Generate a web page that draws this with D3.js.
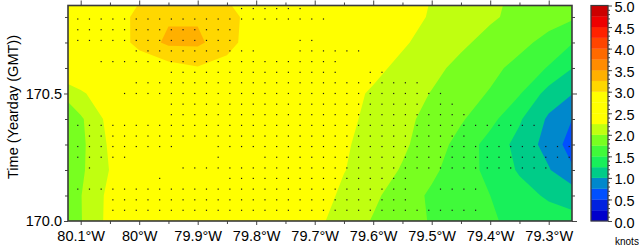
<!DOCTYPE html>
<html>
<head>
<meta charset="utf-8">
<script src="https://cdn.jsdelivr.net/npm/d3@7"></script>
<style>
body { margin: 0; background: #fff; }
svg { display: block; font-family: "Liberation Sans", Arial, Helvetica, sans-serif; }
</style>
</head>
<body>
<script>
// grid of wind speed (knots): columns = longitude (deg W), rows = yearday (top to bottom)
var lonCols = [80.15, 80.10, 80.05, 80.00, 79.95, 79.90, 79.85, 79.80, 79.75, 79.70,
               79.65, 79.60, 79.55, 79.50, 79.45, 79.40, 79.35, 79.30, 79.25];
var timeRows = [170.9, 170.8, 170.7, 170.6, 170.5, 170.4, 170.3, 170.2, 170.1, 170.0];
var speed = [
  [2.55, 2.62, 2.78, 2.93, 3.08, 3.08, 2.95, 2.82, 2.72, 2.62, 2.52, 2.43, 2.34, 2.25, 2.15, 2.05, 1.96, 1.87, 1.78], // 170.9
  [2.55, 2.62, 2.80, 3.09, 3.22, 3.22, 3.12, 2.85, 2.72, 2.62, 2.52, 2.43, 2.33, 2.23, 2.13, 2.03, 1.94, 1.85, 1.76], // 170.8
  [2.50, 2.60, 2.75, 3.11, 3.30, 3.30, 3.10, 2.84, 2.70, 2.60, 2.50, 2.38, 2.28, 2.16, 2.04, 1.93, 1.82, 1.67, 1.47], // 170.7
  [2.40, 2.50, 2.60, 2.75, 2.90, 2.98, 2.90, 2.80, 2.70, 2.58, 2.45, 2.31, 2.19, 2.06, 1.94, 1.82, 1.67, 1.48, 1.20], // 170.6
  [1.92, 2.21, 2.42, 2.55, 2.68, 2.80, 2.82, 2.80, 2.70, 2.55, 2.33, 2.22, 2.10, 1.99, 1.86, 1.73, 1.52, 1.15, 0.97], // 170.5
  [1.75, 1.96, 2.34, 2.50, 2.62, 2.75, 2.78, 2.75, 2.68, 2.52, 2.31, 2.19, 2.06, 1.93, 1.78, 1.58, 1.28, 0.96, 0.70], // 170.4
  [1.78, 1.94, 2.29, 2.50, 2.62, 2.72, 2.75, 2.72, 2.65, 2.50, 2.28, 2.16, 2.04, 1.88, 1.66, 1.40, 1.17, 0.90, 0.58], // 170.3
  [1.77, 1.955, 2.26, 2.50, 2.62, 2.70, 2.72, 2.70, 2.62, 2.48, 2.26, 2.12, 1.98, 1.80, 1.62, 1.43, 1.22, 1.02, 0.72], // 170.2
  [1.76, 1.99, 2.32, 2.50, 2.60, 2.65, 2.65, 2.60, 2.55, 2.40, 2.19, 2.05, 1.87, 1.71, 1.61, 1.50, 1.35, 1.21, 1.10], // 170.1
  [1.75, 1.985, 2.33, 2.50, 2.55, 2.60, 2.60, 2.55, 2.50, 2.31, 2.15, 1.98, 1.86, 1.73, 1.63, 1.53, 1.43, 1.38, 1.33]  // 170.0
];

// contour levels and their fill colours
var levels = [0, 0.25, 0.5, 0.75, 1.0, 1.25, 1.5, 1.75, 2.0, 2.25,
              2.5, 2.75, 3.0, 3.25, 3.5, 3.75, 4.0, 4.25, 4.5, 4.75];
var levelColors = ["#0000cc", "#0022e0", "#0050ff", "#0088cc", "#00cc88", "#18f05a", "#40fa3a", "#78ff20", "#c0ff10", "#ffff00",
                   "#ffff00", "#ffff00", "#ffd700", "#ffb000", "#ff8c00", "#ff6a00", "#ff4500", "#ff2200", "#ee0000", "#cc0000"];

// sample locations (dots)
var dotLons = [80.105, 80.085, 80.065, 80.045, 80.025, 80.005, 79.985, 79.965, 79.945, 79.925, 79.905,
               79.885, 79.865, 79.845, 79.825, 79.805, 79.785, 79.765, 79.745, 79.725, 79.705, 79.685,
               79.665, 79.645, 79.625, 79.605, 79.585, 79.565, 79.545, 79.525, 79.505, 79.485, 79.465,
               79.445, 79.425, 79.405, 79.385, 79.365, 79.345, 79.325, 79.305, 79.285, 79.265];
var dotTimes = [170.833, 170.792, 170.75, 170.708, 170.667, 170.625, 170.583, 170.542, 170.5, 170.458,
                170.417, 170.375, 170.333, 170.292, 170.25, 170.208, 170.167, 170.125, 170.083, 170.042];
var dotRows = ["14-19", "0-21", "0-13", "0-13,19-20", "5-15,19-24", "2-22", "8-22,25-26", "5-29", "4-31", "8-29,31-32",
               "8-33", "0-39", "1-33", "0-8,12-42", "0-4,12,16-42", "1,9-40", "7,13-28", "0-28,31-34", "3-28", "3-34"];

var lonTicks = [80.1, 80.0, 79.9, 79.8, 79.7, 79.6, 79.5, 79.4, 79.3];
var timeTicks = [170.0, 170.5];
var keyTicks = [0.0, 0.5, 1.0, 1.5, 2.0, 2.5, 3.0, 3.5, 4.0, 4.5, 5.0];

var w = 639;
var h = 247;
var pLeft = 68, pRight = 572, pTop = 5.5, pBottom = 221;

var svg = d3.select("body").append("svg")
  .attr("width", w)
  .attr("height", h);

var x = d3.scaleLinear().domain([-80.1217, -79.2602]).range([pLeft, pRight]);
var y = d3.scaleLinear().domain([170.0, 170.845]).range([pBottom, pTop]);

svg.append("clipPath").attr("id", "plotclip")
  .append("rect")
  .attr("x", pLeft).attr("y", pTop)
  .attr("width", pRight - pLeft).attr("height", pBottom - pTop);

// contours
var flat = [];
speed.forEach(function(row) { row.forEach(function(v) { flat.push(v); }); });

var contours = d3.contours()
  .size([lonCols.length, timeRows.length])
  .thresholds(levels)(flat);

var gx = d3.scaleLinear().domain([0.5, lonCols.length - 0.5])
  .range([x(-lonCols[0]), x(-lonCols[lonCols.length - 1])]);
var gy = d3.scaleLinear().domain([0.5, timeRows.length - 0.5])
  .range([y(timeRows[0]), y(timeRows[timeRows.length - 1])]);

var path = d3.geoPath(d3.geoTransform({
  point: function(px, py) { this.stream.point(gx(px), gy(py)); }
}));

svg.append("g")
  .attr("clip-path", "url(#plotclip)")
  .selectAll("path")
  .data(contours)
  .enter().append("path")
  .attr("d", path)
  .attr("fill", function(d, i) { return levelColors[i]; });

// sample dots
var dots = [];
dotRows.forEach(function(s, j) {
  s.split(",").forEach(function(part) {
    var ab = part.split("-").map(Number);
    var end = ab.length > 1 ? ab[1] : ab[0];
    for (var c = ab[0]; c <= end; c++) dots.push({ lon: dotLons[c], t: dotTimes[j] });
  });
});

svg.append("g")
  .selectAll("rect")
  .data(dots)
  .enter().append("rect")
  .attr("x", function(d) { return x(-d.lon) - 0.6; })
  .attr("y", function(d) { return y(d.t) - 0.6; })
  .attr("width", 1.2)
  .attr("height", 1.2)
  .attr("fill", "#1a1a1a");

// axes
var lonFmt = function(d) { return (+Math.abs(d).toFixed(1)) + "\u00b0W"; };
var xMajor = lonTicks.map(function(d) { return -d; });
var xMinor = xMajor.slice(1).map(function(d, i) { return (d + xMajor[i]) / 2; });
var yMinor = d3.range(170.1, 170.85, 0.1).filter(function(d) { return Math.abs(d - 170.5) > 0.01; });

function styleAxis(g) {
  g.select(".domain").remove();
  g.selectAll(".tick line").attr("stroke", "#444");
  g.selectAll(".tick text").attr("fill", "#000").style("font-size", "14.5px");
}

svg.append("g").attr("transform", "translate(0," + pBottom + ")")
  .call(d3.axisBottom(x).tickValues(xMajor).tickSize(4).tickPadding(6).tickFormat(lonFmt))
  .call(styleAxis);
svg.append("g").attr("transform", "translate(0," + pBottom + ")")
  .call(d3.axisBottom(x).tickValues(xMinor).tickSize(3).tickFormat(""))
  .call(styleAxis);
svg.append("g").attr("transform", "translate(0," + pTop + ")")
  .call(d3.axisTop(x).tickValues(xMajor).tickSize(5).tickFormat(""))
  .call(styleAxis);
svg.append("g").attr("transform", "translate(0," + pTop + ")")
  .call(d3.axisTop(x).tickValues(xMinor).tickSize(3).tickFormat(""))
  .call(styleAxis);

svg.append("g").attr("transform", "translate(" + pLeft + ",0)")
  .call(d3.axisLeft(y).tickValues(timeTicks).tickSize(4).tickPadding(2).tickFormat(d3.format(".1f")))
  .call(styleAxis);
svg.append("g").attr("transform", "translate(" + pLeft + ",0)")
  .call(d3.axisLeft(y).tickValues(yMinor).tickSize(3).tickFormat(""))
  .call(styleAxis);
svg.append("g").attr("transform", "translate(" + pRight + ",0)")
  .call(d3.axisRight(y).tickValues(timeTicks).tickSize(5).tickFormat(""))
  .call(styleAxis);
svg.append("g").attr("transform", "translate(" + pRight + ",0)")
  .call(d3.axisRight(y).tickValues(yMinor).tickSize(3).tickFormat(""))
  .call(styleAxis);

// frame
svg.append("rect")
  .attr("x", pLeft).attr("y", pTop)
  .attr("width", pRight - pLeft).attr("height", pBottom - pTop)
  .attr("fill", "none")
  .attr("stroke", "#3a3a3a")
  .attr("stroke-width", 1.6);

svg.append("text")
  .attr("transform", "translate(18,107) rotate(-90)")
  .attr("text-anchor", "middle")
  .style("font-size", "14.5px")
  .text("Time (Yearday (GMT))");

// colour key
var kx0 = 591, kx1 = 608;
var k = d3.scaleLinear().domain([0, 5]).range([pBottom, pTop]);

svg.append("g")
  .selectAll("rect")
  .data(levels)
  .enter().append("rect")
  .attr("x", kx0)
  .attr("y", function(d) { return k(d + 0.25); })
  .attr("width", kx1 - kx0)
  .attr("height", function(d) { return k(d) - k(d + 0.25); })
  .attr("fill", function(d, i) { return levelColors[i]; })
  .attr("stroke", function(d, i) { return levelColors[i]; })
  .attr("stroke-width", 0.3);

svg.append("rect")
  .attr("x", kx0).attr("y", pTop)
  .attr("width", kx1 - kx0).attr("height", pBottom - pTop)
  .attr("fill", "none")
  .attr("stroke", "#3a3a3a")
  .attr("stroke-width", 1.2);

svg.append("g").attr("transform", "translate(" + kx1 + ",0)")
  .call(d3.axisRight(k).tickValues(keyTicks).tickSize(4).tickPadding(2.5).tickFormat(d3.format(".1f")))
  .call(styleAxis)
  .selectAll(".tick text").attr("dy", "0.42em");
svg.append("g").attr("transform", "translate(" + kx1 + ",0)")
  .call(d3.axisRight(k).tickValues(d3.range(0.1, 5, 0.1)).tickSize(2).tickFormat(""))
  .call(styleAxis);

svg.append("text")
  .attr("x", 615)
  .attr("y", 245)
  .style("font-size", "10px")
  .text("knots");
</script>
</body>
</html>
